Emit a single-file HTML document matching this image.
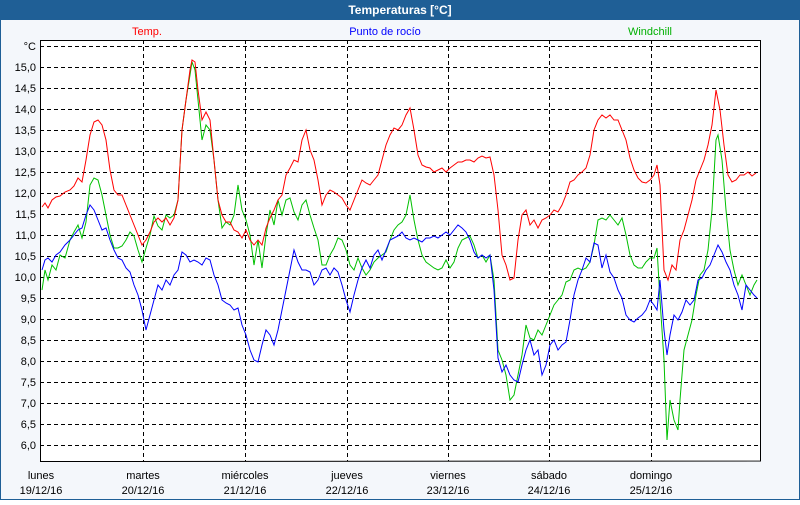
<!DOCTYPE html>
<html><head><meta charset="utf-8"><style>
html,body{margin:0;padding:0;}
body{width:800px;height:500px;overflow:hidden;font-family:"Liberation Sans",sans-serif;}
</style></head><body>
<svg width="800" height="500" xmlns="http://www.w3.org/2000/svg" font-family="Liberation Sans, sans-serif" font-size="11">
<rect x="0" y="0" width="800" height="500" fill="#f4f7fb"/>
<rect x="0.5" y="0.5" width="799" height="499" fill="none" stroke="#1f5f96"/>
<rect x="0" y="0" width="800" height="20" fill="#1f5f96"/>
<text x="400" y="14" fill="#fff" font-weight="bold" text-anchor="middle" font-size="12">Temperaturas [°C]</text>
<rect x="40" y="40" width="720" height="421" fill="#fff"/>
<text x="147" y="35" fill="#ff0000" text-anchor="middle">Temp.</text>
<text x="385" y="35" fill="#0000ff" text-anchor="middle">Punto de rocío</text>
<text x="650" y="35" fill="#00b000" text-anchor="middle">Windchill</text>
<g stroke="#000" stroke-dasharray="4,3" stroke-width="1">
<line x1="40" y1="46.5" x2="760" y2="46.5"/>
<line x1="40" y1="67.5" x2="760" y2="67.5"/><line x1="40" y1="88.5" x2="760" y2="88.5"/>
<line x1="40" y1="109.5" x2="760" y2="109.5"/><line x1="40" y1="130.5" x2="760" y2="130.5"/>
<line x1="40" y1="151.5" x2="760" y2="151.5"/><line x1="40" y1="172.5" x2="760" y2="172.5"/>
<line x1="40" y1="193.5" x2="760" y2="193.5"/><line x1="40" y1="214.5" x2="760" y2="214.5"/>
<line x1="40" y1="235.5" x2="760" y2="235.5"/><line x1="40" y1="256.5" x2="760" y2="256.5"/>
<line x1="40" y1="277.5" x2="760" y2="277.5"/><line x1="40" y1="298.5" x2="760" y2="298.5"/>
<line x1="40" y1="319.5" x2="760" y2="319.5"/><line x1="40" y1="340.5" x2="760" y2="340.5"/>
<line x1="40" y1="361.5" x2="760" y2="361.5"/><line x1="40" y1="382.5" x2="760" y2="382.5"/>
<line x1="40" y1="403.5" x2="760" y2="403.5"/><line x1="40" y1="424.5" x2="760" y2="424.5"/>
<line x1="40" y1="445.5" x2="760" y2="445.5"/>
<line x1="143.5" y1="40" x2="143.5" y2="461"/><line x1="245.5" y1="40" x2="245.5" y2="461"/>
<line x1="347.5" y1="40" x2="347.5" y2="461"/><line x1="448.5" y1="40" x2="448.5" y2="461"/>
<line x1="549.5" y1="40" x2="549.5" y2="461"/><line x1="651.5" y1="40" x2="651.5" y2="461"/>
</g>
<polyline fill="none" stroke="#000" points="40.5,461 40.5,40.5 760.5,40.5 760.5,461 40,461.5"/>
<g text-anchor="end" fill="#000">
<text x="36" y="50">°C</text>
<text x="36" y="71">15,0</text><text x="36" y="92">14,5</text><text x="36" y="113">14,0</text>
<text x="36" y="134">13,5</text><text x="36" y="155">13,0</text><text x="36" y="176">12,5</text>
<text x="36" y="197">12,0</text><text x="36" y="218">11,5</text><text x="36" y="239">11,0</text>
<text x="36" y="260">10,5</text><text x="36" y="281">10,0</text><text x="36" y="302">9,5</text>
<text x="36" y="323">9,0</text><text x="36" y="344">8,5</text><text x="36" y="365">8,0</text>
<text x="36" y="386">7,5</text><text x="36" y="407">7,0</text><text x="36" y="428">6,5</text>
<text x="36" y="449">6,0</text>
</g>
<g text-anchor="middle" fill="#000">
<text x="41" y="479">lunes</text><text x="41" y="494">19/12/16</text>
<text x="143" y="479">martes</text><text x="143" y="494">20/12/16</text>
<text x="245" y="479">miércoles</text><text x="245" y="494">21/12/16</text>
<text x="347" y="479">jueves</text><text x="347" y="494">22/12/16</text>
<text x="448" y="479">viernes</text><text x="448" y="494">23/12/16</text>
<text x="549" y="479">sábado</text><text x="549" y="494">24/12/16</text>
<text x="651" y="479">domingo</text><text x="651" y="494">25/12/16</text>
</g>
<polyline fill="none" stroke="#00c000" points="42,290 45,270 48,280 52,265 56,270 60,255 65,258 70,240 74,232 78,225 82,238 86,222 90,185 94,178 98,180 102,195 106,215 110,235 114,248 118,248 122,246 126,240 130,232 134,236 138,250 142,262 146,248 150,235 154,216 158,226 162,230 166,215 170,218 174,215 178,200 182,130 186,100 190,75 192,62 195,70 198,100 202,140 206,125 210,130 214,160 218,200 222,228 226,222 230,225 234,215 238,185 242,210 246,220 250,235 254,265 258,240 262,268 266,235 270,210 274,225 278,200 282,215 286,200 290,198 294,212 298,220 302,205 306,200 310,215 314,228 318,240 322,265 326,265 330,255 334,248 338,238 342,240 346,250 350,265 354,270 358,258 362,268 366,275 370,270 374,262 378,258 382,255 386,252 390,240 394,230 398,225 402,222 406,215 410,195 414,220 418,240 422,255 426,262 430,265 434,268 438,270 442,268 446,260 450,268 454,262 458,248 462,240 466,238 470,236 474,245 478,258 482,255 486,262 490,255 494,280 498,350 502,360 506,375 510,400 514,395 518,375 522,355 526,325 530,338 534,340 538,330 542,335 546,325 550,315 554,305 558,300 562,295 566,282 570,280 574,270 578,268 582,270 586,268 590,262 594,245 598,220 602,218 606,220 610,215 614,220 618,225 622,218 626,235 630,255 634,265 638,268 642,268 646,262 650,258 654,258 657,248 660,300 664,360 667,440 670,400 674,420 678,430 680,400 684,350 688,335 692,320 696,295 700,275 704,270 708,250 712,210 716,140 718,135 722,160 726,210 730,250 734,270 738,285 742,275 746,285 750,295 754,285 757,280"/>
<polyline fill="none" stroke="#0000ff" points="42,270 45,260 48,258 52,262 56,255 60,252 65,245 70,240 74,235 78,230 82,228 86,215 90,205 94,210 98,220 102,230 106,228 110,240 114,250 118,258 122,260 126,268 130,272 134,285 138,295 142,310 146,330 150,315 154,300 158,285 162,290 166,280 170,285 174,275 178,270 182,252 186,255 190,262 194,260 198,262 202,265 206,258 210,260 214,275 218,285 222,300 226,303 230,305 234,310 238,308 242,325 246,335 250,350 254,360 258,362 262,345 266,330 270,335 274,345 278,330 282,310 286,290 290,270 294,250 298,262 302,270 306,270 310,272 314,285 318,280 322,270 326,268 330,275 334,268 338,272 342,285 346,300 350,312 354,295 358,280 362,268 366,260 370,268 374,255 378,250 382,260 386,250 390,240 394,238 398,236 402,232 406,238 410,240 414,238 418,240 422,242 426,238 430,238 434,236 438,238 442,235 446,232 450,235 454,230 458,225 462,228 466,232 470,240 474,252 478,258 482,255 486,258 490,255 494,290 498,358 502,372 506,365 510,375 514,380 518,382 522,365 526,350 530,340 534,355 538,350 542,375 546,365 550,345 554,340 558,350 562,345 566,342 570,320 574,295 578,280 582,270 586,258 590,262 594,243 598,245 602,268 606,255 610,272 614,278 618,290 622,298 626,315 630,320 634,322 638,318 642,315 646,310 650,300 654,305 657,310 660,280 664,330 667,355 670,335 674,315 678,320 682,312 686,300 690,305 694,300 698,280 702,278 706,270 710,265 714,255 718,245 722,252 726,262 730,270 734,285 738,295 742,310 746,285 750,290 754,295 757,298"/>
<polyline fill="none" stroke="#ff0000" points="42,207 45,203 48,208 52,200 56,197 60,196 65,192 70,190 74,186 78,178 82,182 86,160 90,135 94,122 98,120 102,125 106,140 110,170 114,190 118,195 122,195 126,205 130,215 134,225 138,235 142,245 146,240 150,232 154,222 158,218 162,222 166,218 170,225 174,218 178,200 182,130 186,100 190,70 192,60 195,62 198,90 202,120 206,112 210,120 214,160 218,200 222,215 226,222 230,222 234,230 238,232 242,238 246,230 250,240 254,245 258,240 262,245 266,228 270,218 274,210 278,200 282,195 286,175 290,168 294,160 298,162 302,140 306,130 310,150 314,160 318,180 322,205 326,195 330,190 334,192 338,195 342,198 346,205 350,210 354,200 358,190 362,180 366,183 370,185 374,180 378,175 382,160 386,145 390,135 394,128 398,130 402,125 406,115 410,108 414,130 418,155 422,165 426,167 430,168 434,172 438,170 442,168 446,172 450,168 454,165 458,162 462,162 466,160 470,160 474,162 478,158 482,156 486,158 490,157 494,175 498,210 502,255 506,265 510,280 514,278 518,240 522,215 526,210 530,225 534,220 538,228 542,220 546,218 550,215 554,210 558,212 562,205 566,195 570,182 574,180 578,175 582,172 586,168 590,155 594,130 598,120 602,115 606,118 610,115 614,120 618,120 622,130 626,140 630,158 634,170 638,178 642,182 646,183 650,180 654,175 657,165 660,185 664,270 668,280 672,265 676,270 680,240 684,230 688,215 692,200 696,180 700,170 704,160 708,145 712,125 716,90 720,110 724,145 728,175 732,182 736,180 740,175 744,175 748,172 752,176 756,173"/>
</svg>
</body></html>
